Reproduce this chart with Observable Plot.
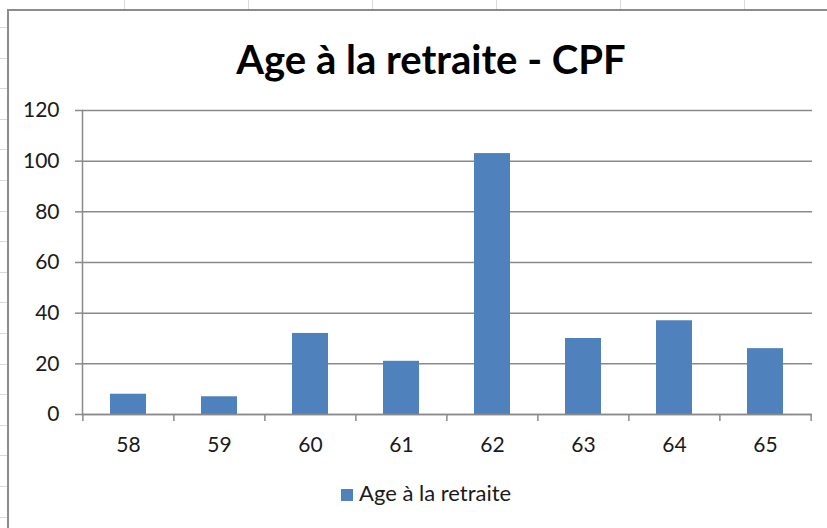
<!DOCTYPE html>
<html>
<head>
<meta charset="utf-8">
<script src="https://cdn.jsdelivr.net/npm/d3@7"></script>
<script src="https://cdn.jsdelivr.net/npm/@observablehq/plot@0.6"></script>
<style>
  html, body { margin: 0; padding: 0; background: #fff; }
  #wrap { position: relative; width: 827px; height: 528px; overflow: hidden; background: #fff; font-family: Lato, "Open Sans", sans-serif; }
  .vline { position: absolute; top: 0; width: 1px; height: 9px; background: #d9d9d9; }
  .hline { position: absolute; left: 0; width: 7px; height: 1px; background: #d9d9d9; }
  #border { position: absolute; left: 7px; top: 9px; width: 900px; height: 600px; border-left: 2px solid #8c8c8c; border-top: 2px solid #8c8c8c; }
  #title { position: absolute; left: 0; width: 862px; top: 39px; text-align: center; font-size: 40px; line-height: 40px; font-weight: 700; color: #000; }
  #chart { position: absolute; left: 0; top: 0; }
  #legend { position: absolute; left: 341px; top: 482px; font-size: 22px; line-height: 22px; color: #1a1a1a; white-space: nowrap; }
  #legend .sw { display: inline-block; width: 12px; height: 12px; background: #4f81bd; margin-right: 6px; vertical-align: 0px; }
</style>
</head>
<body>
<div id="wrap">
  <div id="border"></div>
  <div id="title">Age à la retraite - CPF</div>
  <div id="chart"></div>
  <div id="legend"><span class="sw"></span>Age à la retraite</div>
</div>
<script>
// Data
const ages = [58, 59, 60, 61, 62, 63, 64, 65];
const counts = [8, 7, 32, 21, 103, 30, 37, 26];
const yTicks = [0, 20, 40, 60, 80, 100, 120];
const seriesName = "Age à la retraite";

const data = ages.map((a, i) => ({age: a, count: counts[i]}));

// spreadsheet decoration
const wrap = document.getElementById("wrap");
for (let k = 1; k <= 6; k++) {
  const d = document.createElement("div");
  d.className = "vline"; d.style.left = (124 * k) + "px";
  wrap.insertBefore(d, wrap.firstChild);
}
for (let k = 0; k < 17; k++) {
  const d = document.createElement("div");
  d.className = "hline"; d.style.top = Math.round(27 + 30.6 * k) + "px";
  wrap.insertBefore(d, wrap.firstChild);
}

const W = 827, H = 528, mL = 82, mR = 15, mT = 110, mB = 114;
const step = (W - mL - mR) / ages.length;
const gridColor = "#8a8a8a";
const textColor = "#1a1a1a";

const chart = Plot.plot({
  width: W, height: H,
  marginLeft: mL, marginRight: mR, marginTop: mT, marginBottom: mB,
  style: {fontFamily: "Lato, 'Open Sans', sans-serif", fontSize: "21px", background: "transparent", overflow: "visible"},
  x: {domain: ages, paddingInner: 0.6, paddingOuter: 0.3, label: null},
  y: {domain: [0, 120], label: null},
  marks: [
    Plot.gridY(yTicks, {stroke: gridColor, strokeOpacity: 1, strokeWidth: 1.5}),
    Plot.barY(data, {x: "age", y: "count", fill: "#4f81bd"}),
    Plot.axisY({ticks: yTicks, tickSize: 7, tickPadding: 16, stroke: gridColor, strokeWidth: 1.5, fill: textColor, fontSize: 21}),
    Plot.axisX({tickSize: 0, tickPadding: 23, fill: textColor, fontSize: 21}),
    Plot.axisX({tickSize: 7, text: null, stroke: gridColor, strokeWidth: 1.5, dx: -step / 2}),
    Plot.axisX([ages[ages.length - 1]], {tickSize: 7, text: null, stroke: gridColor, strokeWidth: 1.5, dx: step / 2}),
    Plot.frame({anchor: "left", stroke: gridColor, strokeWidth: 1.5}),
    Plot.ruleY([0], {stroke: gridColor, strokeWidth: 1.5})
  ]
});
document.getElementById("chart").appendChild(chart);
</script>
</body>
</html>
